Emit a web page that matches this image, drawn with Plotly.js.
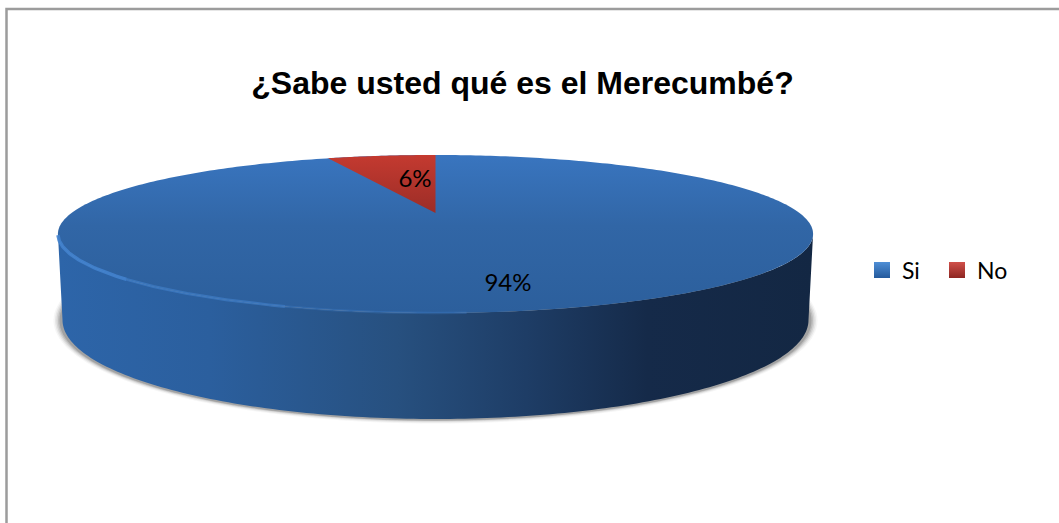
<!DOCTYPE html>
<html><head><meta charset="utf-8">
<script src="https://cdn.plot.ly/plotly-3.0.1.min.js"></script>
<style>html,body{margin:0;padding:0;background:#fff}#c{width:1059px;height:523px}</style>
</head><body><div id="c"></div>
<script>
const categories = ["Si", "No"];
const values = [94, 6];
const titleText = "¿Sabe usted qué es el Merecumbé?";

const total = values.reduce((a, b) => a + b, 0);
const noShare = values[1] / total;

// Perspective disc on pixel-scaled axes
const cx = 435.5, aT = 364, pT = 16.8, qT = 213, rT = -0.2658;
const disc = (t) => {           // t: clockwise angle from 12 o'clock, in radians
  const X = Math.sin(t), v = -Math.cos(t), w = 1 + rT * v;
  return [cx + aT * X / w, (pT * v + qT) / w];
};
const seq = (a, b, n) => Array.from({length: n + 1}, (_, i) => a + (b - a) * i / n);
const TAU = Math.PI * 2;
const path = (a, b, n) => { const p = seq(a, b, n).map(disc); return [p.map(q => q[0]), p.map(q => q[1])]; };

// Lower rim of the wall
const botA = 373, botB = 99, botY = 320;
const lower = (u) => [cx + botA * Math.cos(u), botY + botB * Math.sin(u)];

const ell = (a, b, y) => {
  const u = seq(0, TAU, 180);
  return [u.map(t => cx + a * Math.cos(t)), u.map(t => y + b * Math.sin(t))];
};

const traces = [];
// soft drop shadow
[[382, 103, 0.05], [380.5, 102, 0.08], [379, 101, 0.12], [377.5, 100.4, 0.16], [376, 100, 0.22]].forEach(([a, b, o]) => {
  const [x, y] = ell(a, b, botY + 0.5);
  traces.push({type: "scatter", mode: "none", x, y, fill: "toself", fillcolor: `rgba(70,70,70,${o})`, showlegend: false, hoverinfo: "skip"});
});

// wall: upper front rim (between the widest points) + lower rim
const topFront = seq(TAU * 0.2928, TAU * 0.7072, 160).map(disc);
const lowRim = seq(Math.PI, 0, 160).map(lower);
const wall = [...topFront, ...lowRim];
traces.push({type: "scatter", mode: "none", x: wall.map(p => p[0]), y: wall.map(p => p[1]), fill: "toself",
  fillgradient: {type: "horizontal", colorscale: [
    [0, "#2d65a9"], [0.2, "#2b5f9e"], [0.45, "#27507f"], [0.62, "#1e3d66"], [0.78, "#152a49"], [1, "#132743"]]},
  showlegend: false, hoverinfo: "skip"});

// top face: the big slice, then the small one
const [sx, sy] = path(0, TAU, 360);
traces.push({type: "scatter", mode: "none", x: sx, y: sy, fill: "toself",
  fillgradient: {type: "vertical", colorscale: [[0, "#2c5f9c"], [0.55, "#3166a6"], [1, "#3975bf"]]},
  showlegend: false, hoverinfo: "skip"});

const [wx, wy] = path(TAU * (1 - noShare), TAU, 40);
traces.push({type: "scatter", mode: "none", x: [cx, ...wx, cx], y: [qT, ...wy, qT], fill: "toself",
  fillgradient: {type: "vertical", colorscale: [[0, "#9c2d27"], [1, "#c43a30"]]},
  showlegend: false, hoverinfo: "skip"});

// bevel highlight along the front edge, fading to the right
[[0.705, 0.62, 0.9, 3.5], [0.62, 0.55, 0.6, 3], [0.55, 0.49, 0.3, 2.5]].forEach(([a, b, o, w]) => {
  const [x, y] = path(TAU * a, TAU * b, 60);
  traces.push({type: "scatter", mode: "lines", x, y, line: {color: `rgba(66,130,205,${o})`, width: w}, showlegend: false, hoverinfo: "skip"});
});

// data labels
traces.push({type: "scatter", mode: "text", x: [508, 415], y: [284.5, 181],
  text: values.map(v => Math.round(v / total * 100) + "%"),
  textposition: "middle center", textfont: {family: "Lato, sans-serif", size: 24, color: "#000"},
  showlegend: false, hoverinfo: "skip"});

// legend entries
const legendColours = [["#4f8fd6", "#245a9c"], ["#d0504a", "#8e2622"]];
categories.forEach((name, i) => traces.push({type: "scatter", mode: "markers", name, x: [null], y: [null],
  marker: {symbol: "square", size: 16, color: legendColours[i][0],
    gradient: {type: "vertical", color: legendColours[i][1]}, line: {width: 0}}}));

const layout = {
  width: 1059, height: 523,
  margin: {l: 0, r: 0, t: 0, b: 0},
  paper_bgcolor: "#fff", plot_bgcolor: "#fff",
  xaxis: {range: [0, 1059], visible: false, fixedrange: true},
  yaxis: {range: [523, 0], visible: false, fixedrange: true},
  title: {text: "<b>" + titleText + "</b>", x: 522.5 / 1059, xanchor: "center", y: 1 - 83 / 523, yanchor: "middle",
    font: {family: "Liberation Sans, Arial, sans-serif", size: 32, color: "#000"}},
  legend: {orientation: "h", x: 862 / 1059, xanchor: "left", y: 1 - 270 / 523, yanchor: "middle",
    font: {family: "Lato, sans-serif", size: 23, color: "#000"}, bgcolor: "rgba(0,0,0,0)", entrywidth: 30, entrywidthmode: "pixels", traceorder: "normal"},
  shapes: [{type: "rect", xref: "paper", yref: "paper", x0: 6.5 / 1059, x1: 1.01, y0: -0.01, y1: 1 - 9 / 523,
    line: {color: "#9c9c9c", width: 2.5}, fillcolor: "rgba(0,0,0,0)", layer: "below"}],
  showlegend: true
};
Plotly.newPlot("c", traces, layout, {displayModeBar: false, staticPlot: true});
</script></body></html>
